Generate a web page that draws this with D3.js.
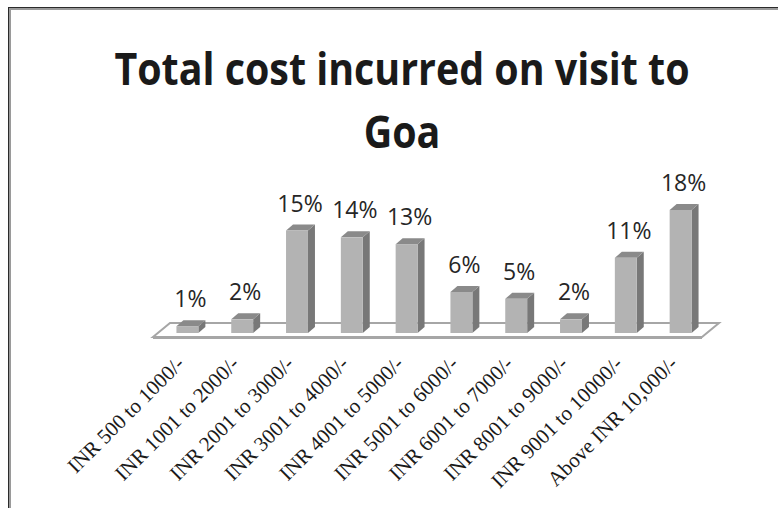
<!DOCTYPE html>
<html lang="en">
<head>
  <meta charset="utf-8">
  <title>Total cost incurred on visit to Goa</title>
  <script src="https://cdnjs.cloudflare.com/ajax/libs/d3/7.8.5/d3.min.js"></script>
  <style>
    body { margin: 0; background: #fff; }
    svg { display: block; }
  </style>
</head>
<body>
<div id="ChartArea"></div>
<script>
// chart data
const categories = ["INR 500 to 1000/-", "INR 1001 to 2000/-", "INR 2001 to 3000/-",
  "INR 3001 to 4000/-", "INR 4001 to 5000/-", "INR 5001 to 6000/-", "INR 6001 to 7000/-",
  "INR 8001 to 9000/-", "INR 9001 to 10000/-", "Above INR 10,000/-"];
const percents = [1, 2, 15, 14, 13, 6, 5, 2, 11, 18];
const titleLines = ["Total cost incurred on visit to", "Goa"];

const W = 778, H = 508;
const depth = {dx: 7, dy: -6};      // bar 3d offset
const floorDepth = {dx: 17, dy: -14};

const svg = d3.select("#ChartArea").append("svg")
    .attr("width", W)
    .attr("height", H);

// frame (only top and left edges show)
svg.append("line").attr("x1", 8).attr("x2", W).attr("y1", 7.5).attr("y2", 7.5)
  .attr("stroke", "#2b2b2b").attr("stroke-width", 1);
svg.append("line").attr("x1", 9).attr("x2", W).attr("y1", 9).attr("y2", 9)
  .attr("stroke", "#9a9a9a").attr("stroke-width", 2);
svg.append("line").attr("x1", 8.5).attr("x2", 8.5).attr("y1", 7).attr("y2", H)
  .attr("stroke", "#2b2b2b").attr("stroke-width", 1);
svg.append("line").attr("x1", 10).attr("x2", 10).attr("y1", 9).attr("y2", H)
  .attr("stroke", "#9a9a9a").attr("stroke-width", 2);

// title, squeezed horizontally to get the narrow look of the original font
svg.append("g")
    .attr("transform", "translate(402,0) scale(0.875,1)")
  .selectAll("text")
  .data(titleLines)
  .enter().append("text")
  .attr("x", 0)
  .attr("y", (d, i) => 85 + i * 63)
  .attr("text-anchor", "middle")
  .attr("font-family", "'Open Sans', 'Noto Sans', sans-serif")
  .attr("font-weight", "bold")
  .attr("font-size", 45)
  .attr("fill", "#1a1a1a")
  .text(d => d);

// scales
const x = d3.scaleBand()
  .domain(categories)
  .range([160, 708])
  .paddingInner(0.6)
  .paddingOuter(0.3);

const y = d3.scaleLinear()
  .domain([0, 18])
  .range([333, 210]);

// floor
const [r0, r1] = x.range();
const fy = y(0) + 4;
const floorPts = [[r0 - 7, fy], [r1 - 6, fy],
  [r1 - 6 + floorDepth.dx, fy + floorDepth.dy], [r0 - 7 + floorDepth.dx, fy + floorDepth.dy]];
svg.append("polygon")
  .attr("points", floorPts.map(p => p.join(",")).join(" "))
  .attr("fill", "#fff")
  .attr("stroke", "#a6a6a6")
  .attr("stroke-width", 2);
svg.append("line")
  .attr("x1", floorPts[0][0]).attr("x2", floorPts[1][0])
  .attr("y1", fy + 1).attr("y2", fy + 1)
  .attr("stroke", "#a6a6a6").attr("stroke-width", 2);

// bars
const bars = svg.append("g").selectAll("g")
  .data(percents)
  .enter().append("g");

bars.append("polygon") // side face
  .attr("points", (d, i) => {
    const x1 = x(categories[i]) + x.bandwidth();
    return [[x1, y(d)], [x1 + depth.dx, y(d) + depth.dy],
      [x1 + depth.dx, y(0) + depth.dy], [x1, y(0)]].map(p => p.join(",")).join(" ");
  })
  .attr("fill", "#787878");

bars.append("polygon") // top face
  .attr("points", (d, i) => {
    const x0 = x(categories[i]), x1 = x0 + x.bandwidth();
    return [[x0, y(d)], [x1, y(d)], [x1 + depth.dx, y(d) + depth.dy],
      [x0 + depth.dx, y(d) + depth.dy]].map(p => p.join(",")).join(" ");
  })
  .attr("fill", "#8a8a8a");

bars.append("rect") // front face
  .attr("x", (d, i) => x(categories[i]))
  .attr("y", d => y(d))
  .attr("width", x.bandwidth())
  .attr("height", d => y(0) - y(d))
  .attr("fill", "#b3b3b3");

// value labels
bars.append("text")
  .attr("x", (d, i) => x(categories[i]) + x.bandwidth() / 2 + 3)
  .attr("y", d => y(d) + depth.dy - 13)
  .attr("text-anchor", "middle")
  .attr("font-family", "'Open Sans', sans-serif")
  .attr("font-size", 23)
  .attr("fill", "#262626")
  .text(d => d + "%");

// category labels
svg.append("g").selectAll("text")
  .data(categories)
  .enter().append("text")
  .attr("transform", d => "translate(" + (x(d) + x.bandwidth() / 2 - 2) + ",365) rotate(-45)")
  .attr("text-anchor", "end")
  .attr("font-family", "'Liberation Serif', 'Times New Roman', serif")
  .attr("font-size", 21)
  .attr("fill", "#1a1a1a")
  .text(d => d);
</script>
</body>
</html>
